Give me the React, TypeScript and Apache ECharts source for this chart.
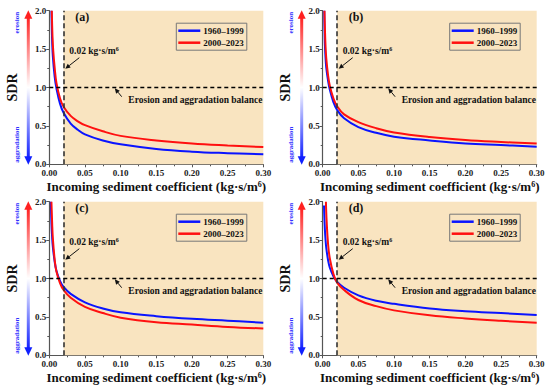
import React, { useEffect, useRef } from 'react';
import * as echarts from 'echarts';

const FONT = "'Liberation Serif', 'Times New Roman', serif";
const SERIES_NAMES = ['1960–1999', '2000–2023'];
const PANEL_LABELS = ['(a)', '(b)', '(c)', '(d)'];
const THRESHOLD_X = 0.02;
const BALANCE_Y = 1.0;
const X_MIN = 0, X_MAX = 0.3, X_STEP = 0.05;
const Y_MIN = 0, Y_MAX = 2.0, Y_STEP = 0.5;

// Panel (a)
const aBlueX = [0.003, 0.0035, 0.004, 0.005, 0.0075, 0.01, 0.015, 0.02, 0.03, 0.04, 0.05, 0.075, 0.10, 0.15, 0.20, 0.25, 0.30];
const aBlueY = [2.0, 1.78, 1.6, 1.4, 1.14, 0.99, 0.79, 0.67, 0.53, 0.45, 0.39, 0.31, 0.26, 0.20, 0.165, 0.145, 0.13];
const aRedX = [0.0035, 0.0045, 0.0055, 0.0075, 0.01, 0.015, 0.02, 0.03, 0.04, 0.05, 0.075, 0.10, 0.15, 0.20, 0.25, 0.30];
const aRedY = [2.0, 1.66, 1.48, 1.26, 1.06, 0.86, 0.75, 0.63, 0.56, 0.51, 0.43, 0.37, 0.31, 0.27, 0.245, 0.225];
// Panel (b)
const bBlueX = [0.0022, 0.003, 0.004, 0.005, 0.0075, 0.01, 0.015, 0.02, 0.03, 0.05, 0.075, 0.10, 0.15, 0.20, 0.25, 0.30];
const bBlueY = [2.0, 1.58, 1.38, 1.26, 1.09, 0.97, 0.81, 0.71, 0.60, 0.485, 0.41, 0.36, 0.31, 0.27, 0.25, 0.23];
const bRedX = [0.0025, 0.003, 0.004, 0.005, 0.0075, 0.01, 0.015, 0.02, 0.03, 0.05, 0.075, 0.10, 0.15, 0.20, 0.25, 0.30];
const bRedY = [2.0, 1.8, 1.53, 1.38, 1.16, 1.02, 0.86, 0.76, 0.65, 0.55, 0.47, 0.415, 0.355, 0.315, 0.29, 0.27];
// Panel (c)
const cBlueX = [0.0022, 0.003, 0.004, 0.005, 0.0075, 0.01, 0.015, 0.02, 0.03, 0.05, 0.075, 0.10, 0.15, 0.20, 0.25, 0.30];
const cBlueY = [2.0, 1.72, 1.53, 1.41, 1.22, 1.10, 0.97, 0.89, 0.80, 0.69, 0.61, 0.56, 0.51, 0.475, 0.45, 0.425];
const cRedX = [0.003, 0.004, 0.005, 0.0075, 0.01, 0.015, 0.02, 0.03, 0.05, 0.075, 0.10, 0.15, 0.20, 0.25, 0.30];
const cRedY = [2.0, 1.72, 1.52, 1.25, 1.09, 0.94, 0.85, 0.75, 0.63, 0.55, 0.49, 0.43, 0.40, 0.37, 0.35];
// Panel (d)
const dBlueX = [0.0018, 0.003, 0.004, 0.005, 0.0075, 0.01, 0.015, 0.02, 0.03, 0.05, 0.075, 0.10, 0.15, 0.20, 0.25, 0.30];
const dBlueY = [1.95, 1.65, 1.5, 1.4, 1.24, 1.14, 1.03, 0.96, 0.88, 0.78, 0.71, 0.67, 0.61, 0.575, 0.55, 0.525];
const dRedX = [0.0045, 0.0055, 0.0075, 0.01, 0.015, 0.02, 0.03, 0.05, 0.075, 0.10, 0.15, 0.20, 0.25, 0.30];
const dRedY = [2.0, 1.75, 1.45, 1.26, 1.06, 0.95, 0.85, 0.72, 0.64, 0.585, 0.52, 0.48, 0.45, 0.425];

const PANEL_DATA = [
  [[aBlueX, aBlueY], [aRedX, aRedY]],
  [[bBlueX, bBlueY], [bRedX, bRedY]],
  [[cBlueX, cBlueY], [cRedX, cRedY]],
  [[dBlueX, dBlueY], [dRedX, dRedY]],
];

const COLORS = ['#0a14ff', '#ff1010'];
const SHADE = '#F9E4C0';
const GRID_W = 214;
const GRID_H = 153.6;
const PANELS = [
  { left: 49.3, top: 10.7 },
  { left: 322.7, top: 10.7 },
  { left: 49.3, top: 201.7 },
  { left: 322.7, top: 201.7 },
];

function arrowEls(x1: number, y1: number, x2: number, y2: number, color: string) {
  const dx = x2 - x1, dy = y2 - y1;
  const len = Math.hypot(dx, dy);
  const ux = dx / len, uy = dy / len;
  const hl = 5, hw = 2.4;
  const bx = x2 - ux * hl, by = y2 - uy * hl;
  const px = -uy * hw, py = ux * hw;
  return [
    { type: 'line', z: 100, silent: true, shape: { x1, y1, x2: bx, y2: by }, style: { stroke: color, lineWidth: 1 } },
    { type: 'polygon', z: 100, silent: true, shape: { points: [[x2, y2], [bx + px, by + py], [bx - px, by - py]] }, style: { fill: color } },
  ];
}

function panelGraphics(i: number) {
  const L = PANELS[i].left;
  const T = PANELS[i].top;
  const cx = L - 21;
  const els: any[] = [];
  els.push({
    type: 'rect', z: 100, silent: true,
    shape: { x: cx - 1.5, y: T + 6, width: 3, height: GRID_H - 12 },
    style: {
      fill: new echarts.graphic.LinearGradient(0, 0, 0, 1, [
        { offset: 0, color: '#ff2020' },
        { offset: 0.5, color: '#ffffff' },
        { offset: 1, color: '#1020ff' },
      ]),
    },
  });
  els.push({ type: 'polygon', z: 100, silent: true, shape: { points: [[cx, T - 0.5], [cx - 4, T + 8], [cx + 4, T + 8]] }, style: { fill: '#ff2020' } });
  els.push({ type: 'polygon', z: 100, silent: true, shape: { points: [[cx, T + GRID_H + 0.5], [cx - 4, T + GRID_H - 8], [cx + 4, T + GRID_H - 8]] }, style: { fill: '#1020ff' } });
  els.push({
    type: 'text', z: 100, silent: true, x: L - 32, y: T + 12, rotation: Math.PI / 2,
    style: { text: 'erosion', fontFamily: FONT, fontWeight: 'bold', fontSize: 7, fill: '#3030ff', align: 'center', verticalAlign: 'middle' },
  });
  els.push({
    type: 'text', z: 100, silent: true, x: L - 32, y: T + 134, rotation: Math.PI / 2,
    style: { text: 'aggradation', fontFamily: FONT, fontWeight: 'bold', fontSize: 7, fill: '#3030ff', align: 'center', verticalAlign: 'middle' },
  });
  els.push({
    type: 'text', z: 100, silent: true, x: L + 26, y: T + 6,
    style: { text: PANEL_LABELS[i], fontFamily: FONT, fontWeight: 'bold', fontSize: 12, fill: '#111', align: 'left', verticalAlign: 'middle' },
  });
  els.push({
    type: 'text', z: 100, silent: true, x: L + 20, y: T + 40,
    style: {
      text: '{n|0.02 kg·s/m}{s|6}', align: 'left', verticalAlign: 'middle',
      rich: {
        n: { fontFamily: FONT, fontWeight: 'bold', fontSize: 9.5, fill: '#111', verticalAlign: 'bottom' },
        s: { fontFamily: FONT, fontWeight: 'bold', fontSize: 6, fill: '#111', verticalAlign: 'top' },
      },
    },
  });
  els.push(...arrowEls(L + 30, T + 47, L + 16, T + 58, '#111'));
  els.push({
    type: 'text', z: 100, silent: true, x: L + 79, y: T + 89,
    style: { text: 'Erosion and aggradation balance', fontFamily: FONT, fontWeight: 'bold', fontSize: 9.5, fill: '#111', align: 'left', verticalAlign: 'middle' },
  });
  els.push(...arrowEls(L + 72.4, T + 86, L + 65.5, T + 77.6, '#111'));
  return els;
}

export default function App() {
  const ref = useRef<HTMLDivElement>(null);
  useEffect(() => {
    if (!ref.current) return;
    const chart = echarts.init(ref.current, null, { renderer: 'svg' });
    const axisLabelStyle = { fontFamily: FONT, fontWeight: 'bold', fontSize: 9, color: '#222' };
    const grid = PANELS.map((p) => ({ left: p.left, top: p.top, width: GRID_W, height: GRID_H, containLabel: false }));
    const xAxis = PANELS.map((_, i) => ({
      type: 'value', gridIndex: i, min: X_MIN, max: X_MAX, interval: X_STEP,
      name: 'Incoming sediment coefficient (kg·s/m{s|6})',
      nameLocation: 'middle', nameGap: 16,
      nameTextStyle: {
        fontFamily: FONT, fontWeight: 'bold', fontSize: 13, color: '#111',
        rich: {
          s: { fontFamily: FONT, fontWeight: 'bold', fontSize: 8, color: '#111', verticalAlign: 'top' },
        },
      },
      axisLine: { show: true, onZero: false, lineStyle: { color: '#555', width: 1.2 } },
      axisTick: { show: true, length: 3, lineStyle: { color: '#555' } },
      minorTick: { show: true, splitNumber: 2, length: 2, lineStyle: { color: '#555' } },
      splitLine: { show: false },
      axisLabel: { ...axisLabelStyle, margin: 4, formatter: (v: number) => v.toFixed(2) },
    }));
    const yAxis = PANELS.map((_, i) => ({
      type: 'value', gridIndex: i, min: Y_MIN, max: Y_MAX, interval: Y_STEP,
      name: 'SDR', nameLocation: 'middle', nameGap: 30,
      nameTextStyle: { fontFamily: FONT, fontWeight: 'bold', fontSize: 14, color: '#111' },
      axisLine: { show: true, onZero: false, lineStyle: { color: '#555', width: 1.2 } },
      axisTick: { show: true, length: 3, lineStyle: { color: '#555' } },
      minorTick: { show: true, splitNumber: 2, length: 2, lineStyle: { color: '#555' } },
      splitLine: { show: false },
      axisLabel: { ...axisLabelStyle, margin: 3, formatter: (v: number) => v.toFixed(1) },
    }));
    const series: any[] = [];
    PANELS.forEach((_, i) => {
      series.push({
        type: 'line', name: 'shade' + i, xAxisIndex: i, yAxisIndex: i, data: [], z: 1, silent: true,
        markArea: { silent: true, itemStyle: { color: SHADE }, data: [[{ xAxis: THRESHOLD_X }, { xAxis: X_MAX }]] },
      });
      series.push({
        type: 'line', name: 'ref' + i, xAxisIndex: i, yAxisIndex: i, data: [], z: 2, silent: true,
        markLine: {
          silent: true, symbol: 'none', label: { show: false },
          data: [
            { xAxis: THRESHOLD_X, lineStyle: { color: '#333', type: [5, 3], width: 1.6 } },
            { yAxis: BALANCE_Y, lineStyle: { color: '#000', type: [4, 3], width: 1.4 } },
          ],
        },
      });
      PANEL_DATA[i].forEach(([xs, ys], k) => {
        series.push({
          type: 'line', name: SERIES_NAMES[k], xAxisIndex: i, yAxisIndex: i, z: 3 + k,
          data: xs.map((x, j) => [x, ys[j]]),
          symbol: 'none', showSymbol: false, smooth: 0.4, clip: true,
          legendIcon: 'rect',
          lineStyle: { color: COLORS[k], width: 2 }, itemStyle: { color: COLORS[k] },
        });
      });
    });
    const legend = PANELS.map((p) => ({
      data: SERIES_NAMES, orient: 'vertical', left: p.left + 127, top: p.top + 12.5,
      icon: 'rect', itemWidth: 22, itemHeight: 2.5, itemGap: 3, padding: [3, 3, 3, 2],
      borderColor: '#777', borderWidth: 1, selectedMode: false,
      textStyle: { fontFamily: FONT, fontWeight: 'bold', fontSize: 9, color: '#111', padding: [0, 0, 0, -2] },
    }));
    const graphic = PANELS.flatMap((_, i) => panelGraphics(i));
    chart.setOption({
      animation: false,
      backgroundColor: '#fff',
      grid, xAxis, yAxis, series, legend, graphic,
    });
    return () => chart.dispose();
  }, []);
  return <div ref={ref} style={{ position: 'absolute', left: 0, top: 0, width: 550, height: 390, background: '#fff' }} />;
}
